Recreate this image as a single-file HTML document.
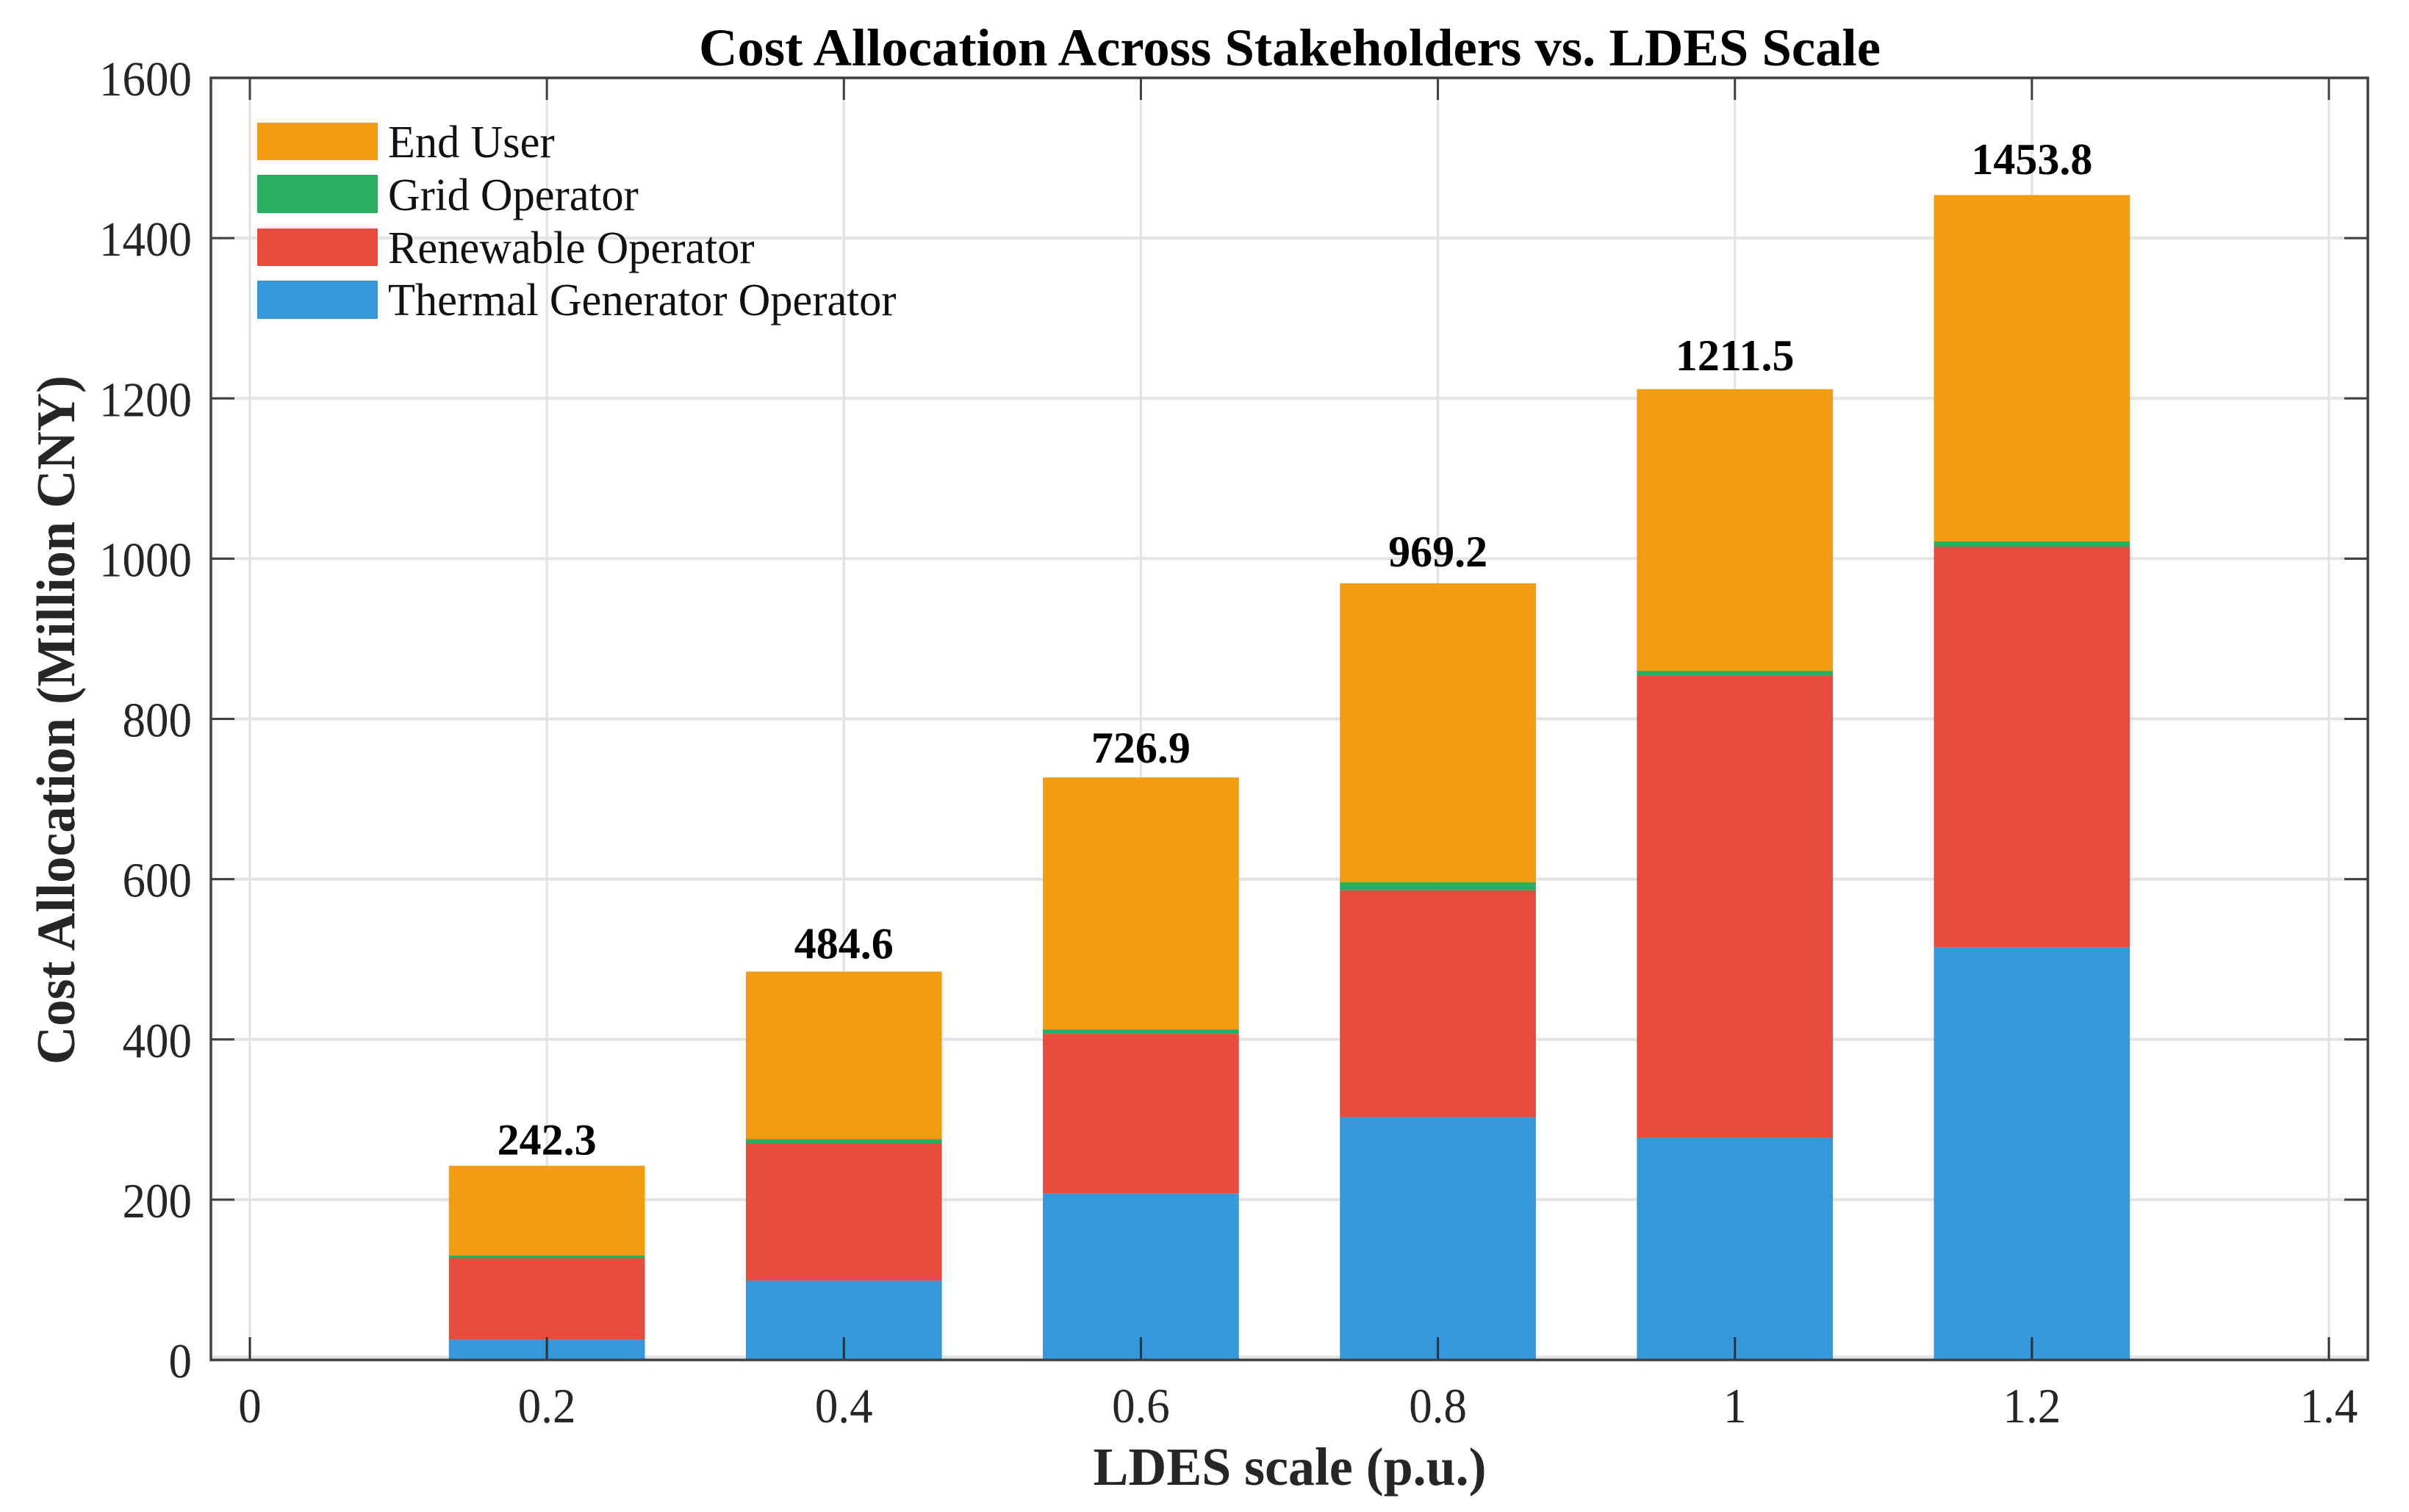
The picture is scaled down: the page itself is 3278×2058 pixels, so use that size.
<!DOCTYPE html>
<html lang="en">
<head>
<meta charset="utf-8">
<title>Cost Allocation Across Stakeholders vs. LDES Scale</title>
<style>
html,body{margin:0;padding:0;background:#fff;width:3278px;height:2058px;overflow:hidden}
svg{display:block}
text{font-family:"Liberation Serif","Times New Roman",serif}
.tick{font-size:67px;fill:#262626}
.val{font-size:60px;font-weight:bold;fill:#000;text-anchor:middle}
.leg{font-size:62px;fill:#111}
</style>
</head>
<body>
<svg id="chart" xmlns="http://www.w3.org/2000/svg" width="3278" height="2058" viewBox="0 0 3278 2058">
  <rect x="0" y="0" width="3278" height="2058" fill="#fff"/>
  <g id="grid"></g>
  <g id="bars"></g>
  <g id="ticks"></g>
  <rect x="287" y="106" width="2935" height="1745" fill="none" stroke="#404040" stroke-width="3.5"/>
  <g id="tick-labels"></g>
  <g id="values"></g>
  <text x="1755" y="89" font-size="72" font-weight="bold" fill="#000" text-anchor="middle" textLength="1608" lengthAdjust="spacingAndGlyphs">Cost Allocation Across Stakeholders vs. LDES Scale</text>
  <text x="1755" y="2021" font-size="73" font-weight="bold" fill="#262626" text-anchor="middle" textLength="535" lengthAdjust="spacingAndGlyphs">LDES scale (p.u.)</text>
  <text transform="translate(101,980) rotate(-90)" font-size="74" font-weight="bold" fill="#262626" text-anchor="middle" textLength="938" lengthAdjust="spacingAndGlyphs">Cost Allocation (Million CNY)</text>
  <g id="legend"></g>
</svg>
<script>
const categories = [0.2, 0.4, 0.6, 0.8, 1.0, 1.2];
const thermalValues = [25, 99, 208, 303, 277, 515];
const renewableValues = [102, 171, 199, 283, 577, 500];
const gridValues = [3.5, 5.5, 5.5, 10, 6, 6.5];
const endUserValues = [111.8, 209.1, 314.4, 373.2, 351.5, 432.3];
const totalLabels = ["242.3", "484.6", "726.9", "969.2", "1211.5", "1453.8"];
const xTicks = [0, 0.2, 0.4, 0.6, 0.8, 1, 1.2, 1.4];
const yTicks = [0, 200, 400, 600, 800, 1000, 1200, 1400, 1600];
const seriesNames = ["Thermal Generator Operator", "Renewable Operator", "Grid Operator", "End User"];
const seriesKeys = ["thermal", "renewable", "grid", "end-user"];
const seriesColors = ["#3498DB", "#E74C3C", "#27AE60", "#F39C12"];
const seriesValues = [thermalValues, renewableValues, gridValues, endUserValues];

const NS = "http://www.w3.org/2000/svg";
const plot = {left: 287, right: 3222, top: 106, bottom: 1851};
const x0 = 340, pxPerX = (3169 - 340) / 1.4;
const pxPerY = (plot.bottom - plot.top) / 1600;
const barWidth = 0.132;
function xScale(v) { return x0 + v * pxPerX; }
function yScale(v) { return plot.bottom - v * pxPerY; }
function make(tag, parent) {
  const el = document.createElementNS(NS, tag);
  parent.appendChild(el);
  return el;
}
function lineAt(el, x1, y1, x2, y2, color, width) {
  el.setAttribute("x1", x1);
  el.setAttribute("y1", y1);
  el.setAttribute("x2", x2);
  el.setAttribute("y2", y2);
  el.setAttribute("stroke", color);
  el.setAttribute("stroke-width", width);
}
function condense(el, factor) {
  el.setAttribute("textLength", el.getComputedTextLength() * factor);
  el.setAttribute("lengthAdjust", "spacingAndGlyphs");
}
const gridG = document.getElementById("grid");
const barsG = document.getElementById("bars");
const ticksG = document.getElementById("ticks");
const labelsG = document.getElementById("tick-labels");
const valuesG = document.getElementById("values");
const legendG = document.getElementById("legend");

yTicks.forEach(function (t) {
  const y = yScale(t);
  const g = make("line", gridG);
  
  
  lineAt(g, plot.left, t === 0 ? y - 4 : y, plot.right, t === 0 ? y - 4 : y, "#e4e4e4", 4);
  if (t !== 0 && t !== 1600) {
    const a = make("line", ticksG);
    
    
    lineAt(a, plot.left, y, plot.left + 32, y, "#404040", 3);
    const b = make("line", ticksG);
    
    
    lineAt(b, plot.right - 32, y, plot.right, y, "#404040", 3);
  }
  const lab = make("text", labelsG);
  
  
  lab.setAttribute("class", "tick");
  lab.setAttribute("x", 261);
  lab.setAttribute("y", y + 24);
  lab.setAttribute("text-anchor", "end");
  lab.textContent = String(t);
  condense(lab, 0.94);
});

xTicks.forEach(function (t) {
  const x = xScale(t);
  const g = make("line", gridG);
  
  
  lineAt(g, x, plot.top, x, plot.bottom, "#e2e2e2", 3);
  const a = make("line", ticksG);
  
  
  lineAt(a, x, plot.bottom - 31, x, plot.bottom, "#303030", 3);
  const b = make("line", ticksG);
  
  
  lineAt(b, x, plot.top, x, plot.top + 30, "#404040", 3);
  const lab = make("text", labelsG);
  
  
  lab.setAttribute("class", "tick");
  lab.setAttribute("x", x);
  lab.setAttribute("y", 1936);
  lab.setAttribute("text-anchor", "middle");
  lab.textContent = String(t);
  condense(lab, 0.94);
});

categories.forEach(function (c, i) {
  let base = 0;
  seriesValues.forEach(function (vals, s) {
    const v = vals[i];
    const r = make("rect", barsG);
    
    
    r.setAttribute("x", xScale(c - barWidth / 2));
    r.setAttribute("width", barWidth * pxPerX);
    r.setAttribute("y", yScale(base + v));
    r.setAttribute("height", v * pxPerY);
    r.setAttribute("fill", seriesColors[s]);
    base += v;
  });
  const t = make("text", valuesG);
  
  
  t.setAttribute("class", "val");
  t.setAttribute("x", xScale(c));
  t.setAttribute("y", yScale(base * 1.01) - 12.5);
  t.textContent = totalLabels[i];
});

const legendOrder = [3, 2, 1, 0];
const legendTop = [167, 238, 311, 382];
const legendHeight = [51, 52, 51, 52];
const legendBase = [214, 286, 358, 429];
legendOrder.forEach(function (s, i) {
  const sw = make("rect", legendG);
  
  
  sw.setAttribute("x", 350);
  sw.setAttribute("y", legendTop[i]);
  sw.setAttribute("width", 164);
  sw.setAttribute("height", legendHeight[i]);
  sw.setAttribute("fill", seriesColors[s]);
  const t = make("text", legendG);
  
  
  t.setAttribute("class", "leg");
  t.setAttribute("x", 528);
  t.setAttribute("y", legendBase[i]);
  t.textContent = seriesNames[s];
  condense(t, 0.975);
});
</script>
</body>
</html>
